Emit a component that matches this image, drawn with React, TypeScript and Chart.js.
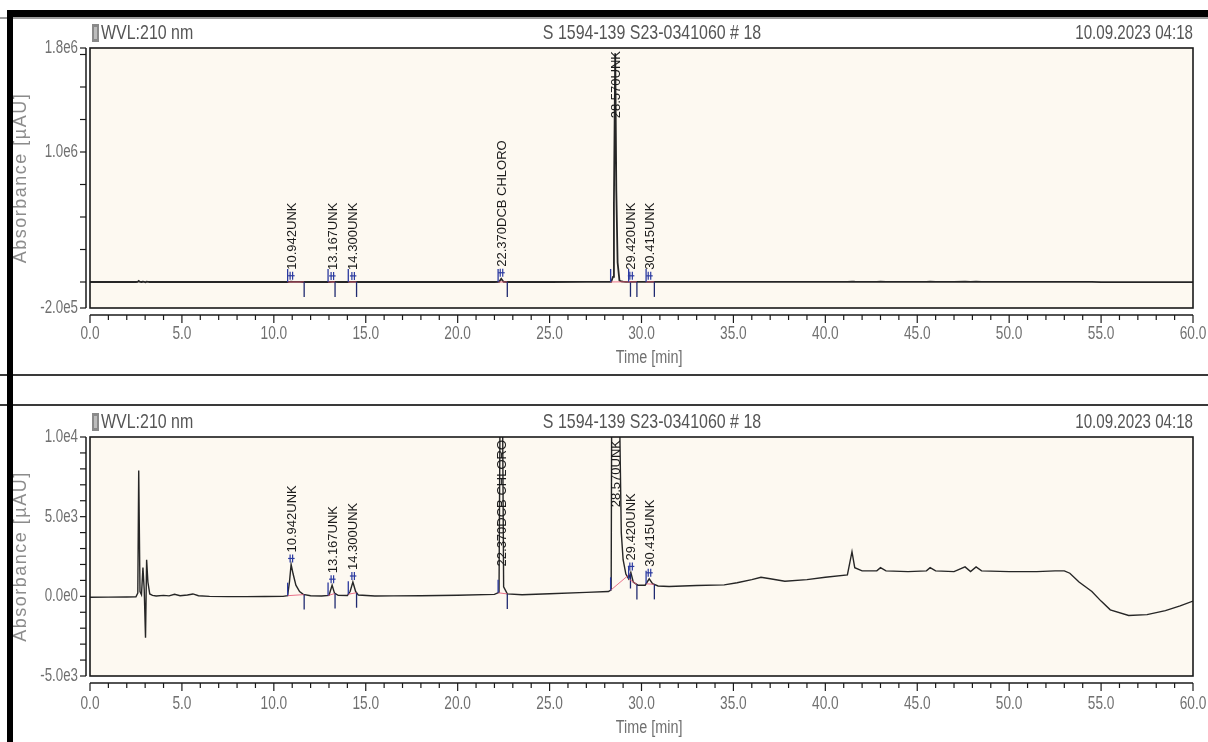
import React, { useEffect, useRef } from "react";
import { Chart, registerables } from "chart.js";

Chart.register(...registerables);

// ---------------- data ----------------
const TIME_MIN: number[] = [
  0.0, 1.0, 2.0, 2.5, 2.6, 2.65, 2.72, 2.8, 2.88, 2.95,
  3.02, 3.08, 3.15, 3.25, 3.4, 3.6, 4.0, 4.3, 4.6, 4.9,
  5.3, 5.6, 5.9, 6.5, 7.5, 8.5, 9.5, 10.5, 10.75, 10.85,
  10.94, 11.05, 11.2, 11.4, 11.6, 12.0, 12.6, 13.0, 13.17, 13.3,
  13.5, 14.0, 14.15, 14.3, 14.45, 14.6, 15.5, 16.5, 18.0, 20.0,
  22.0, 22.25, 22.37, 22.5, 22.7, 23.5, 25.0, 27.0, 28.2, 28.35,
  28.45, 28.5, 28.57, 28.63, 28.7, 28.8, 28.9, 29.0, 29.15, 29.3,
  29.42, 29.55, 29.8, 30.2, 30.42, 30.6, 30.9, 31.5, 33.0, 34.5,
  35.2, 36.0, 36.5, 37.0, 37.8, 39.0, 40.0, 41.2, 41.45, 41.6,
  42.0, 42.8, 43.0, 43.3, 44.5, 45.5, 45.7, 46.0, 47.0, 47.6,
  47.9, 48.2, 48.5, 50.0, 51.5, 52.5, 53.0, 53.3, 53.8, 54.5,
  55.0, 55.5, 56.5, 57.5, 58.5, 59.3, 60.0,
];

const SIGNAL: number[] = [
  -60, -50, -40, -30, 200, 7900, 300, 100, 1800, 400,
  -2600, 2300, 900, 150, 60, 20, 60, 30, 130, 40,
  80, 150, 40, 0, -20, -20, -10, 0, 40, 900,
  2000, 1400, 700, 300, 120, 40, 20, 60, 700, 200,
  60, 50, 300, 900, 300, 80, 20, 30, 40, 70,
  120, 250, 25000, 600, 150, 100, 160, 250, 300, 400,
  40000, 600000, 1760000, 700000, 150000, 12000, 4000, 2300, 1400, 1100,
  1500, 900, 700, 700, 1100, 800, 650, 620, 680, 720,
  850, 1050, 1200, 1100, 950, 1050, 1200, 1350, 2800, 1800,
  1600, 1600, 1800, 1600, 1550, 1600, 1800, 1600, 1550, 1850,
  1550, 1850, 1600, 1550, 1550, 1600, 1600, 1450, 900, 300,
  -300, -850, -1200, -1150, -900, -600, -300,
];

const PEAK_LABELS: string[] = [
  "10.942UNK", "13.167UNK", "14.300UNK", "22.370DCB CHLORO",
  "28.570UNK", "29.420UNK", "30.415UNK",
];
const PEAK_START: number[] = [10.75, 12.95, 14.05, 22.2, 28.32, 29.3, 30.25];
const PEAK_APEX: number[] = [10.94, 13.17, 14.3, 22.37, 28.57, 29.42, 30.42];
const PEAK_END: number[] = [11.65, 13.33, 14.5, 22.7, 29.4, 29.75, 30.7];

const X_TICK_VALUES: number[] = [0, 5, 10, 15, 20, 25, 30, 35, 40, 45, 50, 55, 60];
const X_TICK_LABELS: string[] = [
  "0.0", "5.0", "10.0", "15.0", "20.0", "25.0", "30.0",
  "35.0", "40.0", "45.0", "50.0", "55.0", "60.0",
];

const TOP_Y_TICKS: number[] = [
  -200000, 0, 250000, 500000, 750000, 1000000, 1250000, 1500000, 1750000, 1800000,
];
const TOP_Y_LABEL_VALUES: number[] = [1800000, 1000000, -200000];
const TOP_Y_LABELS: string[] = ["1.8e6", "1.0e6", "-2.0e5"];

const BOT_Y_TICKS: number[] = [
  -5000, -4000, -3000, -2000, -1000, 0, 1000, 2000, 3000, 4000,
  5000, 6000, 7000, 8000, 9000, 10000,
];
const BOT_Y_LABEL_VALUES: number[] = [10000, 5000, 0, -5000];
const BOT_Y_LABELS: string[] = ["1.0e4", "5.0e3", "0.0e0", "-5.0e3"];

const HEADER_LEFT = "WVL:210 nm";
const HEADER_CENTER = "S 1594-139 S23-0341060 # 18";
const HEADER_RIGHT = "10.09.2023 04:18";
const Y_TITLE = "Absorbance [µAU]";
const X_TITLE = "Time [min]";

// ---------------- styling / layout ----------------
const REGULAR = "'Liberation Sans', Arial, sans-serif";
const PLOT_BG = "#FDF9F1";
const TEXT_GRAY = "#707070";

interface PanelCfg {
  yMin: number;
  yMax: number;
  yTicks: number[];
  yLabelValues: number[];
  yLabels: string[];
  padTop: number;
  padBottom: number;
  headerLineY: number;
  headerLineW: number;
  headerTextY: number;
  bottomLine: boolean;
  traceWidth: number;
  xLabelOffset: number;
  xTitleOffset: number;
}

const TOP_H = 376;
const BOT_H = 742 - TOP_H;

const TOP_CFG: PanelCfg = {
  yMin: -200000,
  yMax: 1800000,
  yTicks: TOP_Y_TICKS,
  yLabelValues: TOP_Y_LABEL_VALUES,
  yLabels: TOP_Y_LABELS,
  padTop: 48,
  padBottom: TOP_H - 308,
  headerLineY: 18,
  headerLineW: 1,
  headerTextY: 33,
  bottomLine: true,
  traceWidth: 1.8,
  xLabelOffset: 19,
  xTitleOffset: 43,
};

const BOT_CFG: PanelCfg = {
  yMin: -5000,
  yMax: 10000,
  yTicks: BOT_Y_TICKS,
  yLabelValues: BOT_Y_LABEL_VALUES,
  yLabels: BOT_Y_LABELS,
  padTop: 437 - TOP_H,
  padBottom: 742 - 676,
  headerLineY: 405 - TOP_H,
  headerLineW: 2,
  headerTextY: 422 - TOP_H,
  bottomLine: false,
  traceWidth: 1.4,
  xLabelOffset: 21,
  xTitleOffset: 45,
};

function valueAt(t: number): number {
  for (let i = 1; i < TIME_MIN.length; i++) {
    if (t <= TIME_MIN[i]) {
      const t0 = TIME_MIN[i - 1];
      const t1 = TIME_MIN[i];
      const f = (t - t0) / (t1 - t0);
      return SIGNAL[i - 1] + f * (SIGNAL[i] - SIGNAL[i - 1]);
    }
  }
  return SIGNAL[SIGNAL.length - 1];
}

function line(ctx: CanvasRenderingContext2D, x0: number, y0: number, x1: number, y1: number) {
  ctx.beginPath();
  ctx.moveTo(x0, y0);
  ctx.lineTo(x1, y1);
  ctx.stroke();
}

// condensed (horizontally squeezed) text, like the instrument software's font
function squeezedText(
  ctx: CanvasRenderingContext2D,
  text: string,
  x: number,
  y: number,
  size: number,
  sx: number,
  align: CanvasTextAlign,
  color: string
) {
  ctx.save();
  ctx.translate(x, y);
  ctx.scale(sx, 1);
  ctx.font = `${size}px ${REGULAR}`;
  ctx.fillStyle = color;
  ctx.textAlign = align;
  ctx.textBaseline = "middle";
  ctx.fillText(text, 0, 0);
  ctx.restore();
}

function panelPlugin(cfg: PanelCfg) {
  return {
    id: "chromPanel",
    beforeDraw(chart: any) {
      const { ctx, chartArea: a, width, height } = chart;
      ctx.save();
      ctx.fillStyle = "#ffffff";
      ctx.fillRect(0, 0, width, height);
      ctx.fillStyle = PLOT_BG;
      ctx.fillRect(a.left, a.top, a.right - a.left, a.bottom - a.top);
      ctx.restore();
    },
    afterDatasetsDraw(chart: any) {
      const { ctx, chartArea: a, scales } = chart;
      const xs = scales.x;
      const ys = scales.y;
      ctx.save();
      ctx.beginPath();
      ctx.rect(a.left, a.top, a.right - a.left, a.bottom - a.top);
      ctx.clip();
      PEAK_APEX.forEach((apex, i) => {
        const xS = xs.getPixelForValue(PEAK_START[i]);
        const xE = xs.getPixelForValue(PEAK_END[i]);
        const xA = xs.getPixelForValue(apex);
        const yS = ys.getPixelForValue(valueAt(PEAK_START[i]));
        const yE = ys.getPixelForValue(valueAt(PEAK_END[i]));
        const yARaw = ys.getPixelForValue(valueAt(apex));
        const yA = Math.max(a.top, Math.min(a.bottom, yARaw));
        // baseline
        ctx.strokeStyle = "rgba(230, 90, 120, 0.85)";
        ctx.lineWidth = 1;
        line(ctx, xS, yS, xE, yE);
        // start / end delimiters
        ctx.strokeStyle = "#2b3aa0";
        ctx.lineWidth = 1.3;
        line(ctx, xS, yS, xS, yS - 13);
        ctx.strokeStyle = "#1f2a70";
        line(ctx, xE, yE, xE, yE + 15);
        // apex marker
        if (yARaw > a.top + 12) {
          ctx.strokeStyle = "#2b3aa0";
          ctx.lineWidth = 1.2;
          line(ctx, xA - 1, yA - 2, xA - 1, yA - 10);
          line(ctx, xA + 1.5, yA - 2, xA + 1.5, yA - 10);
          line(ctx, xA - 3, yA - 6, xA + 3.5, yA - 6);
        }
        // rotated label
        ctx.font = `13px ${REGULAR}`;
        const L = ctx.measureText(PEAK_LABELS[i]).width;
        let yStart = yA - 12;
        if (yStart - L < a.top + 3) yStart = a.top + 3 + L;
        ctx.save();
        ctx.translate(xA + 1, yStart);
        ctx.rotate(-Math.PI / 2);
        ctx.fillStyle = "#1b1b1b";
        ctx.textAlign = "left";
        ctx.textBaseline = "middle";
        ctx.fillText(PEAK_LABELS[i], 0, 0);
        ctx.restore();
      });
      ctx.restore();
    },
    afterDraw(chart: any) {
      const { ctx, chartArea: a, scales, width, height } = chart;
      const xs = scales.x;
      const ys = scales.y;
      ctx.save();
      // header line
      ctx.strokeStyle = "#3a3a3a";
      ctx.lineWidth = cfg.headerLineW;
      line(ctx, 0, cfg.headerLineY, width, cfg.headerLineY);
      if (cfg.bottomLine) {
        ctx.lineWidth = 2;
        line(ctx, 0, height - 1, width, height - 1);
      }
      // plot box
      ctx.strokeStyle = "#1a1a1a";
      ctx.lineWidth = 1.6;
      ctx.strokeRect(a.left, a.top, a.right - a.left, a.bottom - a.top);
      // header texts
      ctx.fillStyle = "#8a8a8a";
      ctx.fillRect(92, cfg.headerTextY - 9, 7, 18);
      ctx.fillStyle = "#bdbdbd";
      ctx.fillRect(94, cfg.headerTextY - 6, 3, 12);
      squeezedText(ctx, HEADER_LEFT, 101, cfg.headerTextY, 21, 0.76, "left", "#555555");
      squeezedText(ctx, HEADER_CENTER, 652, cfg.headerTextY, 21, 0.76, "center", "#555555");
      squeezedText(ctx, HEADER_RIGHT, 1193, cfg.headerTextY, 21, 0.72, "right", "#555555");
      // y axis
      const axX = a.left - 4;
      ctx.strokeStyle = "#1a1a1a";
      ctx.lineWidth = 1.5;
      line(ctx, axX, a.top, axX, a.bottom);
      ctx.lineWidth = 1.2;
      cfg.yTicks.forEach((v) => {
        const y = ys.getPixelForValue(v);
        line(ctx, axX - 6, y, axX, y);
      });
      cfg.yLabelValues.forEach((v, i) => {
        squeezedText(ctx, cfg.yLabels[i], axX - 8, ys.getPixelForValue(v), 18, 0.74, "right", TEXT_GRAY);
      });
      // y title
      ctx.save();
      ctx.translate(21, (a.top + a.bottom) / 2);
      ctx.rotate(-Math.PI / 2);
      ctx.font = `18px ${REGULAR}`;
      (ctx as any).letterSpacing = "1.5px";
      ctx.fillStyle = "#8c8c8c";
      ctx.textAlign = "center";
      ctx.textBaseline = "middle";
      ctx.fillText(Y_TITLE, 0, 0);
      ctx.restore();
      // x ruler
      const rY = a.bottom + 7;
      ctx.strokeStyle = "#1a1a1a";
      ctx.lineWidth = 1.5;
      line(ctx, a.left, rY, a.right, rY);
      ctx.lineWidth = 1.2;
      for (let t = 0; t <= 60; t += 1) {
        const x = xs.getPixelForValue(t);
        const major = X_TICK_VALUES.indexOf(t) >= 0;
        line(ctx, x, rY, x, rY + (major ? 8 : 5));
      }
      X_TICK_VALUES.forEach((t, i) => {
        squeezedText(ctx, X_TICK_LABELS[i], xs.getPixelForValue(t), rY + cfg.xLabelOffset, 18, 0.76, "center", TEXT_GRAY);
      });
      squeezedText(ctx, X_TITLE, xs.getPixelForValue(28.6), rY + cfg.xTitleOffset, 18, 0.8, "left", TEXT_GRAY);
      ctx.restore();
    },
  };
}

function makeChart(canvas: HTMLCanvasElement, cfg: PanelCfg): Chart {
  return new Chart(canvas, {
    type: "line",
    data: {
      datasets: [
        {
          data: TIME_MIN.map((t, i) => ({ x: t, y: SIGNAL[i] })),
          borderColor: "#262626",
          borderWidth: cfg.traceWidth,
          pointRadius: 0,
          tension: 0,
          fill: false,
        },
      ],
    },
    options: {
      responsive: false,
      animation: false,
      devicePixelRatio: 1,
      events: [],
      layout: { padding: { left: 90, right: 15, top: cfg.padTop, bottom: cfg.padBottom } },
      scales: {
        x: { type: "linear", min: 0, max: 60, display: false },
        y: { type: "linear", min: cfg.yMin, max: cfg.yMax, display: false },
      },
      plugins: {
        legend: { display: false },
        tooltip: { enabled: false },
        title: { display: false },
      },
    } as any,
    plugins: [panelPlugin(cfg) as any],
  });
}

export default function App() {
  const topRef = useRef<HTMLCanvasElement>(null);
  const botRef = useRef<HTMLCanvasElement>(null);

  useEffect(() => {
    const charts: Chart[] = [];
    if (topRef.current) charts.push(makeChart(topRef.current, TOP_CFG));
    if (botRef.current) charts.push(makeChart(botRef.current, BOT_CFG));
    return () => charts.forEach((c) => c.destroy());
  }, []);

  return (
    <div
      style={{
        position: "absolute",
        left: 0,
        top: 0,
        width: 1208,
        height: 742,
        background: "#ffffff",
        overflow: "hidden",
      }}
    >
      <canvas
        ref={topRef}
        width={1208}
        height={TOP_H}
        style={{ position: "absolute", left: 0, top: 0, width: 1208, height: TOP_H }}
      />
      <canvas
        ref={botRef}
        width={1208}
        height={BOT_H}
        style={{ position: "absolute", left: 0, top: TOP_H, width: 1208, height: BOT_H }}
      />
      <div
        style={{
          position: "absolute",
          left: 7,
          top: 10,
          width: 1201,
          height: 745,
          borderTop: "7px solid #000",
          borderLeft: "6px solid #000",
          boxSizing: "border-box",
          pointerEvents: "none",
        }}
      />
    </div>
  );
}
